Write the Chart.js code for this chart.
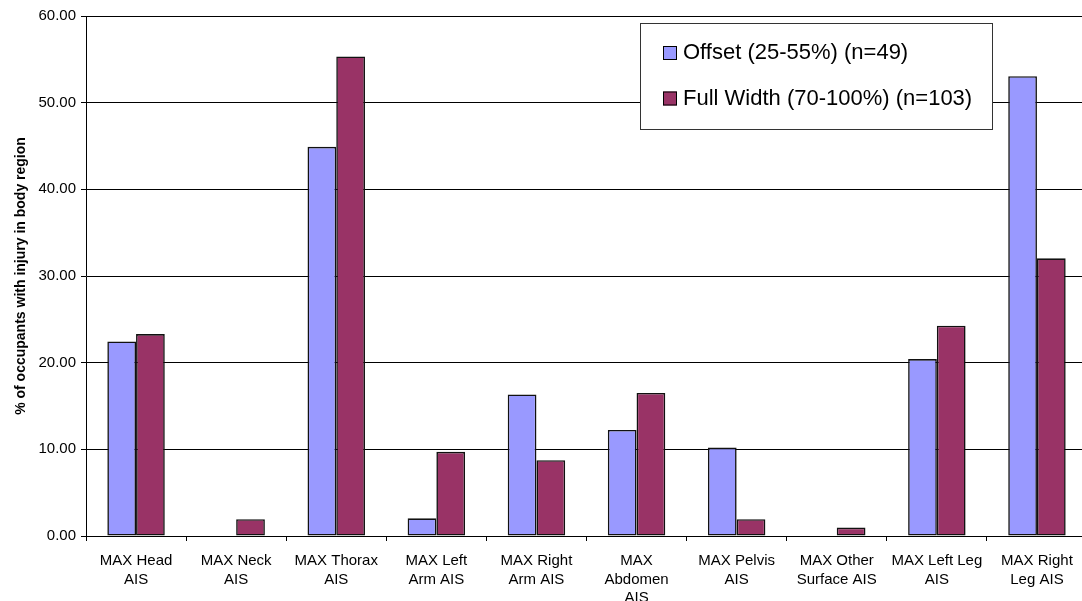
<!DOCTYPE html>
<html>
<head>
<meta charset="utf-8">
<script src="https://cdn.jsdelivr.net/npm/chart.js@4/dist/chart.umd.min.js"></script>
<style>
  html, body { margin: 0; padding: 0; background: #fff; overflow: hidden; }
  #wrap { position: relative; width: 1082px; height: 601px; overflow: hidden; }
  #wrap canvas { position: absolute; left: 0; top: 0; }
</style>
</head>
<body>
<div id="wrap"><canvas id="chart" width="1088" height="601"></canvas></div>
<script>
// Body regions (x-axis categories, wrapped onto lines)
const categories = [
  ["MAX Head", "AIS"],
  ["MAX Neck", "AIS"],
  ["MAX Thorax", "AIS"],
  ["MAX Left", "Arm AIS"],
  ["MAX Right", "Arm AIS"],
  ["MAX", "Abdomen", "AIS"],
  ["MAX Pelvis", "AIS"],
  ["MAX Other", "Surface AIS"],
  ["MAX Left Leg", "AIS"],
  ["MAX Right", "Leg AIS"]
];

// Series names
const seriesNames = ["Offset (25-55%) (n=49)", "Full Width (70-100%) (n=103)"];

// % of occupants with an injury in each body region
const offsetValues    = [22.45, 0,    44.90, 2.04, 16.33, 12.24, 10.20, 0,    20.41, 53.06];
const fullWidthValues = [23.30, 1.94, 55.34, 9.71, 8.74,  16.50, 1.94,  0.97, 24.27, 32.04];

// Value axis
const yMin = 0;
const yMax = 60;
const yStep = 10;

const FONT = '"Liberation Sans", Arial, Helvetica, sans-serif';

// Boxed legend drawn over the plot area
const boxLegend = {
  id: 'boxLegend',
  afterDraw(chart, args, o) {
    const ctx = chart.ctx;
    ctx.save();
    ctx.fillStyle = '#ffffff';
    ctx.fillRect(o.x, o.y, o.w, o.h);
    ctx.strokeStyle = '#333333';
    ctx.lineWidth = 1;
    ctx.strokeRect(o.x + 0.5, o.y + 0.5, o.w, o.h);
    ctx.font = o.fontSize + 'px ' + FONT;
    ctx.textBaseline = 'alphabetic';
    ctx.textAlign = 'left';
    chart.data.datasets.forEach((ds, i) => {
      const base = o.y + o.firstBaseline + i * o.rowGap;
      const sy = base - o.swatchRaise;
      ctx.fillStyle = ds.backgroundColor;
      ctx.fillRect(o.x + o.swatchX, sy, o.swatch, o.swatch);
      ctx.strokeStyle = '#000';
      ctx.strokeRect(o.x + o.swatchX + 0.5, sy + 0.5, o.swatch - 1, o.swatch - 1);
      ctx.fillStyle = '#000';
      ctx.fillText(ds.label, o.x + o.textX, base);
    });
    ctx.restore();
  }
};

new Chart(document.getElementById('chart'), {
  type: 'bar',
  data: {
    labels: categories,
    datasets: [
      {
        label: seriesNames[0],
        data: offsetValues,
        backgroundColor: '#9999ff',
        borderColor: '#111111',
        borderWidth: 1.6,
        borderSkipped: false
      },
      {
        label: seriesNames[1],
        data: fullWidthValues,
        backgroundColor: '#993366',
        borderColor: '#111111',
        borderWidth: 1.6,
        borderSkipped: false
      }
    ]
  },
  options: {
    responsive: false,
    animation: false,
    devicePixelRatio: 1,
    layout: { padding: { top: 16, right: 1, left: 0, bottom: 0 } },
    datasets: {
      bar: { categoryPercentage: 0.574, barPercentage: 1.0 }
    },
    plugins: {
      legend: { display: false },
      tooltip: { enabled: false },
      boxLegend: {
        x: 640, y: 23, w: 352, h: 106,
        fontSize: 22,
        firstBaseline: 36, rowGap: 45.5,
        swatchX: 23, swatch: 14, swatchRaise: 13,
        textX: 43
      }
    },
    scales: {
      x: {
        afterFit(scale) { scale.height = 65; },
        grid: {
          offset: true,
          drawOnChartArea: false,
          drawTicks: true,
          tickLength: 5,
          color: '#000000'
        },
        border: { display: true, color: '#000000', width: 1 },
        ticks: {
          color: '#000000',
          font: { family: FONT, size: 15, lineHeight: 1.22 },
          padding: 11,
          maxRotation: 0,
          autoSkip: false
        }
      },
      y: {
        min: yMin,
        max: yMax,
        afterFit(scale) { scale.width = 86; },
        grid: {
          color: '#000000',
          lineWidth: 1,
          drawTicks: true,
          tickLength: 5
        },
        border: { display: true, color: '#000000', width: 1 },
        ticks: {
          stepSize: yStep,
          color: '#000000',
          font: { family: FONT, size: 15 },
          padding: 5,
          callback: (v) => Number(v).toFixed(2)
        },
        title: {
          display: true,
          text: '% of occupants with injury in body region',
          color: '#000000',
          font: { family: FONT, size: 14, weight: 'bold' },
          padding: { top: 13, bottom: 0 }
        }
      }
    }
  },
  plugins: [boxLegend]
});
</script>
</body>
</html>
